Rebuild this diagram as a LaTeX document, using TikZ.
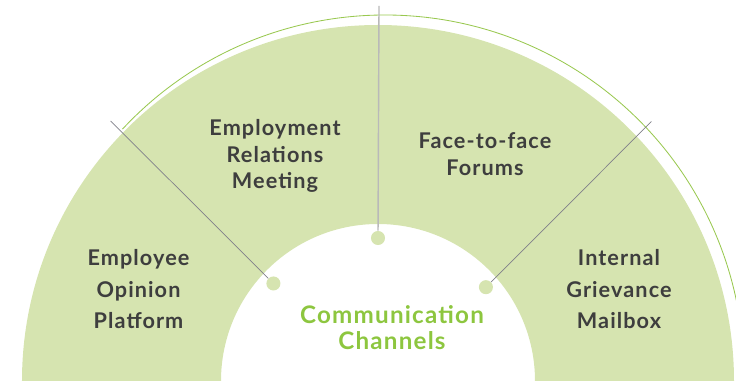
\documentclass[tikz,border=0pt]{standalone}
\usepackage{fontspec}
\setmainfont{Lato}[LetterSpace=5]
\definecolor{ringgreen}{RGB}{214,228,176}
\definecolor{edgegreen}{RGB}{153,200,80}
\definecolor{titlegreen}{RGB}{141,198,63}
\definecolor{textgray}{RGB}{62,62,62}
\definecolor{spokegray}{RGB}{128,128,138}
\definecolor{stemgray}{RGB}{185,185,185}

\begin{document}
\begin{tikzpicture}[
    x=0.025cm, y=0.025cm,
    chan/.style={align=center, text=textgray, font=\bfseries\fontsize{15.4}{19}\selectfont},
    chanlow/.style={chan, font=\bfseries\fontsize{15.4}{22.4}\selectfont},
    hub/.style={align=center, text=titlegreen, font=\bfseries\fontsize{17.2}{18.4}\selectfont},
    dot/.style={circle, fill=ringgreen, inner sep=0pt, minimum size=10},
    spoke/.style={draw=spokegray, line width=0.5pt},
    stem/.style={draw=stemgray, line width=1pt}
]
\useasboundingbox (-378,0) rectangle (358,381);
\clip (-378,0) rectangle (358,381);

% Half ring and outer edge
\fill[ringgreen] (-356,0) arc[start angle=180, end angle=0, radius=356]
    -- (157,0) arc[start angle=0, end angle=180, radius=157] -- cycle;
\draw[edgegreen, line width=0.6pt] (7,7) ++(137:359) arc[start angle=137, end angle=5, radius=359];

% Dots on the inner edge
\node[dot] (dotl) at (137:143) {};
\node[dot] (dotm) at (90:143) {};
\node[dot] (dotr) at (41:143) {};

% Outer ends of the spokes
\coordinate (endl) at (135.8:373);
\coordinate (endm) at (1,375);
\coordinate (endr) at (43.5:377);

% Spokes
\draw[spoke] (dotl) -- (endl);
\draw[stem] (dotm) -- (endm);
\draw[spoke] (dotr) -- (endr);

% Channels
\node[chan] (meeting) at (-103,225) {Employment\\Relations\\Meeting};
\node[chan] (forums) at (107,227) {Face-to-face\\Forums};
\node[chanlow] (opinion) at (-239.5,91.6) {Employee\\Opinion\\Platform};
\node[chanlow] (mailbox) at (241,91.6) {Internal\\Grievance\\Mailbox};

% Centre
\node[hub] (channels) at (14,53) {Communication\\Channels};

\end{tikzpicture}
\end{document}
